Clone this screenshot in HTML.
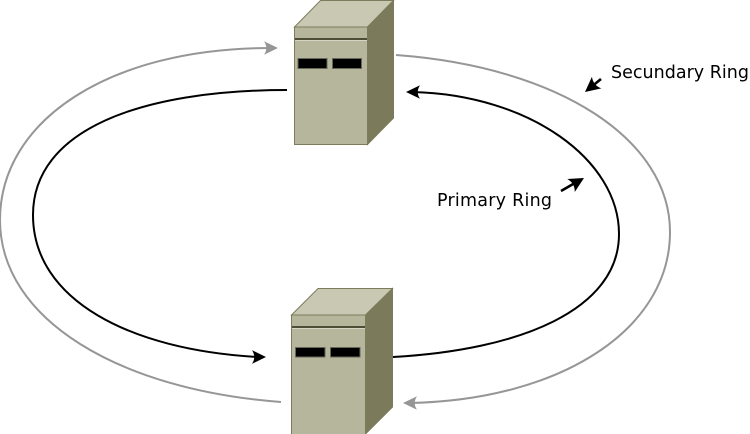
<!DOCTYPE html>
<html><head><meta charset="utf-8"><style>html,body{margin:0;padding:0;background:#fff}svg{display:block}</style></head>
<body><svg width="750" height="434" viewBox="0 0 750 434" xmlns="http://www.w3.org/2000/svg">
<defs>
<g id="ah"><path d="M0,0 L-14,-6.8 Q-9.5,0 -14,6.8 Z"/></g>
<g id="ad"><path d="M0,0 L-15,-7.5 Q-10.5,0 -15,7.5 Z"/></g>
</defs>
<g fill="none" stroke-width="2">
<path stroke="#969696" d="M396,55 C560,67 670,140 670,232 C670,330 560,400 410,403"/>
<path stroke="#969696" d="M281,402 C120,390 0,320 0,220 C0,120 110,48 270,48"/>
<path stroke="#000" d="M393,357 C520,350 619,310 619,234 C619,160 530,95 413,92"/>
<path stroke="#000" d="M287,90 C140,90 33,130 33,215 C33,300 130,350 258,357"/>
<path stroke="#000" stroke-width="2.6" d="M561,191 L574,183.500"/>
<path stroke="#000" stroke-width="2.6" d="M601,79 L593,85.500"/>
</g>
<use href="#ah" transform="translate(278,48)" fill="#969696"/>
<use href="#ah" transform="translate(403,403) rotate(180)" fill="#969696"/>
<use href="#ah" transform="translate(406,92) rotate(180)" fill="#000"/>
<use href="#ah" transform="translate(266,357)" fill="#000"/>
<use href="#ad" transform="translate(584,178) rotate(-30)" fill="#000"/>
<use href="#ad" transform="translate(585,92) rotate(141)" fill="#000"/>
<g stroke="#7c7c5c" stroke-width="1">
<polygon points="294.5,27 320.5,0.5 393.5,0.5 367.5,27" fill="#c9c9b3"/>
<polygon points="367.5,27 393.5,0.5 393.5,118 367.5,144.5" fill="#7b7b5b"/>
<rect x="294.5" y="27" width="73" height="117.5" fill="#b6b69c"/>
</g>
<rect x="295" y="38" width="72" height="2" fill="#4e4e38"/>
<rect x="295" y="40" width="72" height="1" fill="#d5d5c4"/>
<rect x="298" y="58.5" width="29" height="10" fill="#000" stroke="#66665a"/>
<rect x="332.500" y="58.5" width="29" height="10" fill="#000" stroke="#66665a"/>
<g stroke="#7c7c5c" stroke-width="1">
<polygon points="291.500,315 318,288.500 392.500,288.500 365.500,315" fill="#c9c9b3"/>
<polygon points="365.500,315 392.500,288.500 392.500,407 365.500,434" fill="#7b7b5b"/>
<rect x="291.500" y="315" width="74" height="120" fill="#b6b69c"/>
</g>
<rect x="292" y="326" width="73" height="2" fill="#4e4e38"/>
<rect x="292" y="328" width="73" height="1" fill="#d5d5c4"/>
<rect x="295.500" y="347.500" width="29.500" height="9.500" fill="#000" stroke="#66665a"/>
<rect x="330.500" y="347.500" width="29.500" height="9.500" fill="#000" stroke="#66665a"/>
<text x="611" y="78" font-family="'DejaVu Sans',sans-serif" font-size="17.500" textLength="138" fill="#000">Secundary Ring</text>
<text x="437" y="206" font-family="'DejaVu Sans',sans-serif" font-size="17.500" textLength="115" fill="#000">Primary Ring</text>
</svg></body></html>
